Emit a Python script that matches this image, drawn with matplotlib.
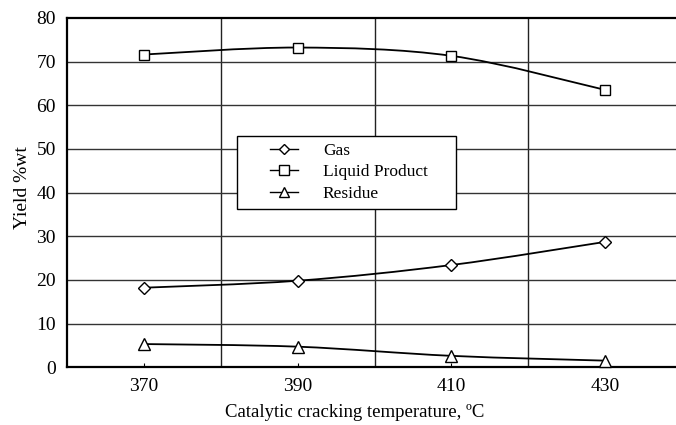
import numpy as np
import matplotlib
matplotlib.use('Agg')
import matplotlib.pyplot as plt
from matplotlib.path import Path
from matplotlib.patches import PathPatch, Rectangle
from matplotlib.lines import Line2D

# Data
temperature = [370, 390, 410, 430]
gas = [18.2, 19.8, 23.4, 28.7]
liquid_product = [71.6, 73.2, 71.3, 63.5]
residue = [5.3, 4.7, 2.6, 1.5]

plt.rcParams['font.family'] = ['Liberation Serif', 'DejaVu Serif']


def smooth_path(x, y):
    # Catmull-Rom style curve through the points, drawn as cubic Bezier segments
    pts = np.column_stack([x, y]).astype(float)
    ext = np.vstack([pts[0], pts, pts[-1]])
    verts = [pts[0]]
    codes = [Path.MOVETO]
    for i in range(len(pts) - 1):
        p0, p1, p2, p3 = ext[i], ext[i + 1], ext[i + 2], ext[i + 3]
        c1 = p1 + (p2 - p0) / 6
        c2 = p2 - (p3 - p1) / 6
        verts += [c1, c2, p2]
        codes += [Path.CURVE4] * 3
    return Path(verts, codes)


fig = plt.figure(figsize=(6.76, 4.25), dpi=100)
ax = fig.add_axes([0.099, 0.136, 0.91, 0.822])

for x in [380, 400, 420]:
    ax.axvline(x, color='#222222', lw=1.0, zorder=1)
for y in range(10, 80, 10):
    ax.axhline(y, color='#333333', lw=1.0, zorder=1)

series = [(gas, 'D', 'Gas', 6),
          (liquid_product, 's', 'Liquid Product', 7),
          (residue, '^', 'Residue', 8)]
handles = []
for values, marker, label, ms in series:
    ax.add_patch(PathPatch(smooth_path(temperature, values), facecolor='none',
                           edgecolor='black', lw=1.3, zorder=3))
    ax.plot(temperature, values, linestyle='none', marker=marker, ms=ms,
            mfc='white', mec='black', mew=1.0, zorder=4, clip_on=False)
    handles.append(Line2D([], [], color='black', lw=1.0, marker=marker, ms=ms - 0.5,
                          mfc='white', mec='black', label=label))

ax.set_xlim(360, 440)
ax.set_ylim(0, 80)
ax.set_xticks(temperature)
ax.set_yticks(range(0, 90, 10))
ax.tick_params(axis='x', direction='in', length=3, labelsize=14, pad=8)
ax.tick_params(axis='y', length=0, labelsize=14, pad=8)

for side in ['left', 'top', 'bottom']:
    ax.spines[side].set_linewidth(1.6)
    ax.spines[side].set_color('black')
ax.spines['right'].set_visible(False)

ax.set_xlabel('Catalytic cracking temperature, ºC', fontsize=13.5, labelpad=6)
ax.xaxis.label.set_x(0.468)
ax.set_ylabel('Yield %wt', fontsize=14, labelpad=4)
ax.yaxis.label.set_y(0.515)

# legend box drawn separately so its padding matches the reference
ax.add_patch(Rectangle((0.276, 0.453), 0.357, 0.209, transform=ax.transAxes,
                       facecolor='white', edgecolor='black', lw=1.0, zorder=5))
leg = ax.legend(handles=handles, loc='upper left', bbox_to_anchor=(0.330, 0.642),
                fontsize=12.5, frameon=False, handlelength=1.6, borderpad=0,
                labelspacing=0.3, borderaxespad=0, handletextpad=1.45)
leg.set_zorder(6)

fig.savefig('out.png', dpi=100)
